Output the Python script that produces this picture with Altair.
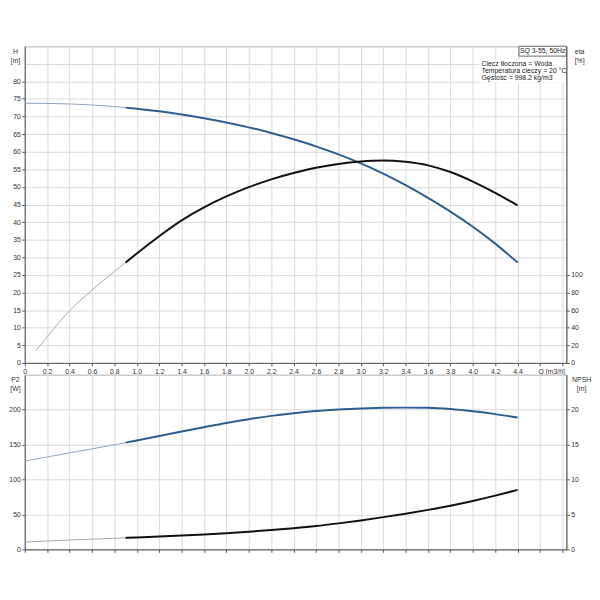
import altair as alt
import pandas as pd

# ---------------- data ----------------
q_main = [0.0, 0.2, 0.4, 0.6, 0.8, 0.9, 1.0, 1.2, 1.4, 1.6, 1.8, 2.0,
          2.2, 2.4, 2.6, 2.8, 3.0, 3.2, 3.4, 3.6, 3.8, 4.0, 4.2, 4.4]
h_m = [73.8, 73.75, 73.6, 73.3, 72.85, 72.55, 72.25, 71.5, 70.6, 69.55, 68.35, 66.95,
       65.35, 63.55, 61.55, 59.25, 56.7, 53.8, 50.5, 46.9, 43.0, 38.7, 33.9, 28.5]

q_eta = [0.1, 0.2, 0.4, 0.6, 0.8, 0.9, 1.0, 1.2, 1.4, 1.6, 1.8, 2.0,
         2.2, 2.4, 2.6, 2.8, 3.0, 3.2, 3.4, 3.6, 3.8, 4.0, 4.2, 4.4]
eta_pct = [13.8, 29.8, 59.2, 82.8, 104.0, 114.0, 124.4, 144.0, 162.0, 176.8, 189.2, 199.8,
           208.6, 215.8, 221.8, 226.2, 229.0, 230.2, 228.6, 224.6, 217.0, 206.2, 193.4, 179.0]

p2_w = [126.5, 132.3, 138.1, 143.9, 149.7, 152.8, 155.9, 162.2, 168.6, 174.9, 181.0, 186.4,
        191.1, 195.0, 198.0, 200.2, 201.7, 202.6, 202.9, 202.6, 200.8, 197.6, 193.6, 188.7]
npsh_m = [1.04, 1.19, 1.33, 1.46, 1.58, 1.64, 1.70, 1.83, 1.97, 2.13, 2.31, 2.52,
          2.76, 3.03, 3.34, 3.72, 4.14, 4.61, 5.11, 5.65, 6.25, 6.93, 7.69, 8.51]

duty_start = 0.9  # curves are drawn thin below this flow

x_ticks = [0.0, 0.2, 0.4, 0.6, 0.8, 1.0, 1.2, 1.4, 1.6, 1.8, 2.0, 2.2, 2.4,
           2.6, 2.8, 3.0, 3.2, 3.4, 3.6, 3.8, 4.0, 4.2, 4.4, 4.6, 4.8]
h_ticks = [0, 5, 10, 15, 20, 25, 30, 35, 40, 45, 50, 55, 60, 65, 70, 75, 80, 85, 90]
eta_ticks = [0, 20, 40, 60, 80, 100]
p2_ticks = [0, 50, 100, 150, 200, 250]
npsh_ticks = [0, 5, 10, 15, 20]

model_label = "SQ 3-55, 50Hz"
info_lines = ["Ciecz tłoczona = Woda",
              "Temperatura cieczy = 20 °C",
              "Gęstość = 998.2 kg/m3"]

# ---------------- layout ----------------
W = 549
H_TOP = 321
H_BOT = 177
X_MAX = 4.835
FONT = "Liberation Sans"
BLUE = "#2c5f8f"
BLUE_THIN = "#8fa3ba"
BLACK = "#111111"
GRAY_THIN = "#a8a8a8"


def split(qs, vals):
    thin = pd.DataFrame({"q": [a for a in qs if a <= duty_start],
                         "v": [b for a, b in zip(qs, vals) if a <= duty_start]})
    thick = pd.DataFrame({"q": [a for a in qs if a >= duty_start],
                          "v": [b for a, b in zip(qs, vals) if a >= duty_start]})
    return thin, thick


xscale = alt.Scale(domain=[0, X_MAX], nice=False, zero=False)

label_q = ("datum.value > 4.5 ? '' : (datum.value == 0 ? '0' : "
           "format(datum.value, '.1f'))")

x_axis_top = alt.Axis(values=x_ticks, grid=True, labelExpr=label_q,
                      title="Q [m3/h]", titleX=4.70 / X_MAX * W, titleY=5,
                      titleAlign="center", titleBaseline="top",
                      labelFlush=False, labelOverlap=False)
x_axis_bot = alt.Axis(values=x_ticks, grid=True, labels=False, title=None)


def curve(df_thin, df_thick, yscale, axis, color_thick, color_thin, xaxis):
    thin = alt.Chart(df_thin).mark_line(color=color_thin, strokeWidth=1,
                                        interpolate="monotone").encode(
        x=alt.X("q:Q", scale=xscale, axis=xaxis),
        y=alt.Y("v:Q", scale=yscale, axis=axis),
    )
    thick = alt.Chart(df_thick).mark_line(color=color_thick, strokeWidth=2,
                                          interpolate="monotone").encode(
        x=alt.X("q:Q", scale=xscale, axis=xaxis),
        y=alt.Y("v:Q", scale=yscale, axis=axis),
    )
    return alt.layer(thin, thick)


def hide_top(lim):
    return {"condition": {"test": f"datum.value > {lim}", "value": 0}, "value": 1}


# ---------------- top panel ----------------
h_thin, h_thick = split(q_main, h_m)
e_thin, e_thick = split(q_eta, eta_pct)

h_axis = alt.Axis(values=h_ticks, grid=True,
                  labelExpr="datum.value > 82 ? '' : datum.value",
                  tickOpacity=hide_top(82),
                  title=["H", "[m]"], titleAngle=0, titleX=-10, titleY=1,
                  titleAlign="center", titleBaseline="top")
eta_axis = alt.Axis(values=eta_ticks, grid=False, orient="right",
                    title=["eta", "[%]"], titleAngle=0, titleX=13, titleY=1,
                    titleAlign="center", titleBaseline="top")

h_layer = curve(h_thin, h_thick, alt.Scale(domain=[0, 90], nice=False),
                h_axis, BLUE, BLUE_THIN, x_axis_top)
eta_layer = curve(e_thin, e_thick, alt.Scale(domain=[0, 360], nice=False),
                  eta_axis, BLACK, GRAY_THIN, x_axis_top)

one = pd.DataFrame({"a": [0]})
model_box = alt.Chart(one).mark_rect(fill="white", stroke="#444", strokeWidth=0.8).encode(
    x=alt.value(W - 48), x2=alt.value(W), y=alt.value(0), y2=alt.value(10))
model_text = alt.Chart(one).mark_text(font=FONT, fontSize=7, color="#222",
                                      align="center", baseline="middle").encode(
    x=alt.value(W - 24), y=alt.value(5.3), text=alt.value(model_label))
info_bg = alt.Chart(one).mark_rect(fill="white").encode(
    x=alt.value(W - 88), x2=alt.value(W - 1), y=alt.value(13), y2=alt.value(37))
info_texts = [
    alt.Chart(one).mark_text(font=FONT, fontSize=7, color="#222",
                             align="left", baseline="middle").encode(
        x=alt.value(W - 86), y=alt.value(18 + 7.3 * i), text=alt.value(t))
    for i, t in enumerate(info_lines)
]

top = alt.layer(h_layer, eta_layer, model_box, model_text, info_bg, *info_texts).resolve_scale(
    y="independent").properties(width=W, height=H_TOP)

# ---------------- bottom panel ----------------
p_thin, p_thick = split(q_main, p2_w)
n_thin, n_thick = split(q_main, npsh_m)

p2_axis = alt.Axis(values=p2_ticks, grid=True,
                   labelExpr="datum.value > 225 ? '' : datum.value",
                   tickOpacity=hide_top(225),
                   title=["P2", "[W]"], titleAngle=0, titleX=-10, titleY=1,
                   titleAlign="center", titleBaseline="top")
npsh_axis = alt.Axis(values=npsh_ticks, grid=False, orient="right",
                     title=["NPSH", "[m]"], titleAngle=0, titleX=15, titleY=1,
                     titleAlign="center", titleBaseline="top")

p2_layer = curve(p_thin, p_thick, alt.Scale(domain=[0, 250], nice=False),
                 p2_axis, BLUE, BLUE_THIN, x_axis_bot)
npsh_layer = curve(n_thin, n_thick, alt.Scale(domain=[0, 25], nice=False),
                   npsh_axis, BLACK, GRAY_THIN, x_axis_bot)

bottom = alt.layer(p2_layer, npsh_layer).resolve_scale(y="independent").properties(
    width=W, height=H_BOT)

chart = alt.vconcat(top, bottom, spacing=12, bounds="flush").properties(
    padding={"left": 0, "top": 34, "right": 0, "bottom": 0}
).configure_view(stroke="#9a9a9a", strokeWidth=1).configure_axis(
    labelFont=FONT, labelFontSize=7, labelColor="#333",
    titleFont=FONT, titleFontSize=7, titleColor="#333", titleFontWeight="normal",
    titleLineHeight=9,
    gridColor="#d9d9d9", gridWidth=1,
    domainColor="#555", domainWidth=1,
    tickColor="#555", tickSize=3, labelPadding=1.5,
)

chart.save("out.html", embed_options={"renderer": "svg", "actions": False})
